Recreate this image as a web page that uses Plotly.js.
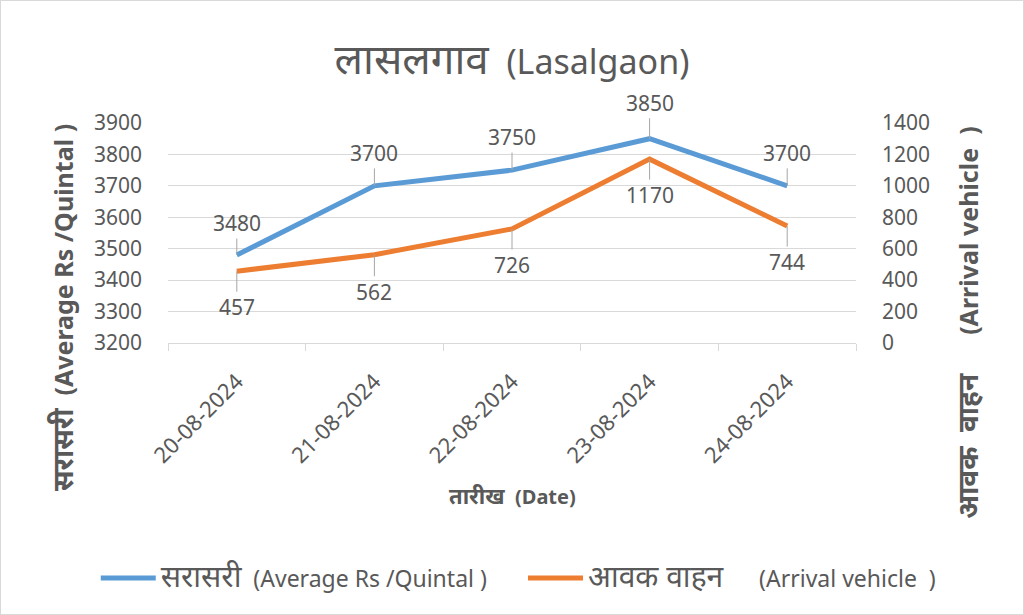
<!DOCTYPE html>
<html>
<head>
<meta charset="utf-8">
<script src="https://cdn.plot.ly/plotly-3.0.1.min.js"></script>
<style>
html,body{margin:0;padding:0;background:#fff;}
#chart{width:1022px;height:613px;border:1px solid #d9d9d9;}
</style>
</head>
<body>
<div id="chart"></div>
<script>
const dates = ["20-08-2024","21-08-2024","22-08-2024","23-08-2024","24-08-2024"];
const avgPrice = [3480, 3700, 3750, 3850, 3700];
const arrivals = [457, 562, 726, 1170, 744];
const priceTicks = [3200,3300,3400,3500,3600,3700,3800,3900];
const arrivalTicks = [0,200,400,600,800,1000,1200,1400];
const priceLabelOffsets = [-32, -33, -33, -36, -33];
const arrivalLabelOffsets = [36, 37, 36, 36, 36];

const FONT = "'Noto Sans', 'Open Sans', sans-serif";
const GREY = "#595959";
const dev = (t, s) => `<span style="font-size:${s}px">${t}</span>`;

const traces = [
  {x: dates, y: avgPrice, type: "scatter", mode: "lines", legend: "legend",
   name: dev("सरासरी", 30) + "\u00a0\u00a0(Average Rs /Quintal )",
   line: {color: "#5B9BD5", width: 5}, yaxis: "y"},
  {x: dates, y: arrivals, type: "scatter", mode: "lines", legend: "legend2",
   name: dev("आवक वाहन", 30) + "\u00a0\u00a0\u00a0\u00a0\u00a0\u00a0(Arrival vehicle\u00a0\u00a0)",
   line: {color: "#ED7D31", width: 5}, yaxis: "y2"}
];

const annotations = [];
dates.forEach((d, i) => {
  annotations.push({x: d, y: avgPrice[i], xref: "x", yref: "y", text: String(avgPrice[i]),
    showarrow: true, arrowhead: 0, arrowwidth: 1, arrowcolor: "#a6a6a6", ax: 0, ay: priceLabelOffsets[i],
    standoff: 0, startstandoff: 0, font: {size: 21, color: GREY, family: FONT}});
  annotations.push({x: d, y: arrivals[i], xref: "x", yref: "y2", text: String(arrivals[i]),
    showarrow: true, arrowhead: 0, arrowwidth: 1, arrowcolor: "#a6a6a6", ax: 0, ay: arrivalLabelOffsets[i],
    standoff: 0, startstandoff: 0, font: {size: 21, color: GREY, family: FONT}});
});

// axis titles
annotations.push({xref: "paper", yref: "paper", x: -0.154, y: 0.159, xanchor: "center", yanchor: "middle",
  textangle: -90, showarrow: false,
  text: "<b>" + dev("सरासरी", 28) + "\u00a0\u00a0(Average Rs /Quintal )</b>",
  font: {size: 25, color: GREY, family: FONT}});
annotations.push({xref: "paper", yref: "paper", x: 1.161, y: 0.095, xanchor: "center", yanchor: "middle",
  textangle: -90, showarrow: false,
  text: "<b>" + dev("आवक  वाहन", 28) + "\u00a0\u00a0\u00a0\u00a0\u00a0\u00a0(Arrival vehicle\u00a0\u00a0)</b>",
  font: {size: 25, color: GREY, family: FONT}});
annotations.push({xref: "paper", yref: "paper", x: 0.5, y: -0.69, xanchor: "center", yanchor: "middle",
  showarrow: false,
  text: "<b>" + dev("तारीख", 22) + "\u00a0\u00a0(Date)</b>",
  font: {size: 20, color: GREY, family: FONT}});

const legendCommon = {orientation: "h", xanchor: "left", y: -1.068, yanchor: "middle",
  font: {size: 23, color: GREY, family: FONT}, itemwidth: 55, bgcolor: "rgba(0,0,0,0)"};

const layout = {
  width: 1022, height: 613,
  margin: {l: 167, r: 167, t: 122, b: 271, pad: 0},
  paper_bgcolor: "#fff", plot_bgcolor: "#fff",
  font: {family: FONT, color: GREY},
  title: {text: dev("लासलगाव", 42) + "\u00a0\u00a0(Lasalgaon)", font: {size: 34, color: GREY, family: FONT},
          x: 0.5, xanchor: "center", y: 0.9, yanchor: "middle", yref: "container"},
  showlegend: true,
  legend: Object.assign({x: -0.105}, legendCommon),
  legend2: Object.assign({x: 0.516}, legendCommon),
  xaxis: {type: "category", range: [-0.5, 4.5], tickangle: -45, tickson: "boundaries",
          ticks: "outside", ticklen: 7, tickcolor: "#d9d9d9", showline: true, linecolor: "#d9d9d9",
          showgrid: false, tickfont: {size: 22, color: GREY, family: FONT}, ticklabelstandoff: 16,
          fixedrange: true},
  yaxis: {range: [3200, 3900], tickvals: priceTicks, showgrid: true, gridcolor: "#d9d9d9", zeroline: false,
          showline: false, ticks: "", tickfont: {size: 21, color: GREY, family: FONT}, ticklabelstandoff: 25},
  yaxis2: {range: [0, 1400], tickvals: arrivalTicks, overlaying: "y", side: "right", showgrid: false,
          zeroline: false, showline: false, ticks: "", tickfont: {size: 21, color: GREY, family: FONT}, ticklabelstandoff: 25},
  annotations: annotations
};

Plotly.newPlot("chart", traces, layout, {displayModeBar: false, staticPlot: true});
</script>
</body>
</html>
